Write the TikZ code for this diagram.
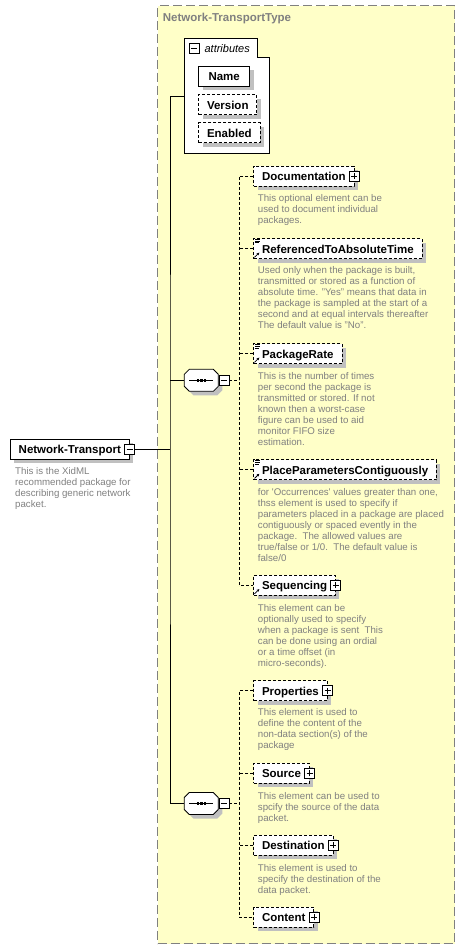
\documentclass[tikz,border=0pt]{standalone}
\usepackage{fontspec}
\setmainfont{Liberation Sans}
\usetikzlibrary{arrows.meta, positioning, shadows}
\definecolor{typeyellow}{RGB}{255,255,200}
\definecolor{typegray}{RGB}{128,128,128}
\definecolor{descgray}{RGB}{128,128,128}
\definecolor{shadowgray}{RGB}{192,192,192}
\newcommand{\elemfont}{\fontsize{11.5}{13}\selectfont\bfseries}
\newcommand{\descfont}{\fontsize{9.7}{11}\selectfont}
\newcommand{\attrfont}{\fontsize{11}{13}\selectfont\itshape}
\newcommand{\reficon}[1]{%
    \draw[line width=0.6pt] ([xshift=1.5pt,yshift=-1.3pt]#1.north west) -- ++(5,0)
        ([xshift=1.5pt,yshift=-2.9pt]#1.north west) -- ++(5,0)
        ([xshift=1.5pt,yshift=-4.5pt]#1.north west) -- ++(4,0);}
\newcommand{\refarrow}[1]{%
    \draw[line width=0.8pt, -{Stealth[length=2.6pt,width=2.8pt]}] ([xshift=1.2pt,yshift=1.8pt]#1.south west) -- ++(4.8,-4.6);}
\newcommand{\seqshape}[1]{%
    \begin{scope}[shift={(#1.center)}]
        \fill[shadowgray] (-8,-7) -- (16,-7) -- (21,-2) -- (21,10) -- (16,15) -- (-8,15) -- (-13,10) -- (-13,-2) -- cycle;
        \draw[wire, fill=white] (-12,-11) -- (12,-11) -- (17,-6) -- (17,6) -- (12,11) -- (-12,11) -- (-17,6) -- (-17,-6) -- cycle;
        \draw[wire] (-12,0) -- (12,0);
        \foreach \d in {-3.6,0,3.6}
            \fill (\d-1.2,-1.2) rectangle (\d+1.2,1.2);
    \end{scope}}
\tikzstyle{typebox} = [
    rectangle,
    draw=typegray,
    line width=1.3pt,
    dash pattern=on 9pt off 4pt,
    fill=typeyellow,
    anchor=north west,
    minimum width=297pt,
    minimum height=938pt,
    inner sep=0pt
]
\tikzstyle{elembox} = [
    rectangle,
    draw=black,
    line width=0.8pt,
    dash pattern=on 3pt off 2pt,
    fill=white,
    minimum height=20pt,
    inner xsep=8.3pt,
    inner ysep=0pt,
    text height=9pt,
    text depth=0pt,
    anchor=west,
    font=\elemfont,
    drop shadow={shadow xshift=4pt, shadow yshift=-4pt, opacity=1, fill=shadowgray}
]
\tikzstyle{rootbox} = [elembox, solid]
\tikzstyle{attrbox} = [elembox, minimum width=51pt]
\tikzstyle{attrframe} = [rectangle, minimum width=85pt, minimum height=114.6pt, inner sep=0pt]
\tikzstyle{seqbox} = [rectangle, minimum width=34pt, minimum height=22pt, inner sep=0pt]
\tikzstyle{descr} = [
    anchor=north west,
    inner sep=0pt,
    align=left,
    font=\descfont,
    text=descgray
]
\tikzstyle{plusbox} = [
    rectangle,
    draw=black,
    solid,
    line width=0.8pt,
    fill=white,
    minimum size=10pt,
    inner sep=0pt,
    path picture={
        \draw[line width=0.8pt] ([xshift=-3pt]path picture bounding box.center) -- ([xshift=3pt]path picture bounding box.center);
        \draw[line width=0.8pt] ([yshift=-3pt]path picture bounding box.center) -- ([yshift=3pt]path picture bounding box.center);
    }
]
\tikzstyle{minusbox} = [
    rectangle,
    draw=black,
    solid,
    line width=0.8pt,
    fill=white,
    minimum size=10pt,
    inner sep=0pt,
    path picture={
        \draw[line width=0.8pt] ([xshift=-3pt]path picture bounding box.center) -- ([xshift=3pt]path picture bounding box.center);
    }
]
\tikzstyle{wire} = [line width=0.8pt, draw=black]
\tikzstyle{dashwire} = [line width=0.8pt, draw=black, dash pattern=on 3pt off 2pt]

\begin{document}
\begin{tikzpicture}[x=1pt, y=-1pt]
\useasboundingbox (0,0) rectangle (464,949);

% Type frame
\node[typebox] (ntype) at (157,5) {};
\node[font=\elemfont, text=typegray, inner sep=0pt, anchor=west] (ntitle) at (162.7,19) {Network-TransportType};

% Attributes
\node[attrframe] (attrs) at (226.8,96) {};
\draw[wire, fill=white] (attrs.north west) -- ([xshift=-12pt]attrs.north east)
    -- ([xshift=-12pt,yshift=-18.6pt]attrs.north east) -- ([yshift=-18.6pt]attrs.north east)
    -- (attrs.south east) -- (attrs.south west) -- cycle;
\node[minusbox] (attrm) at (194,48.5) {};
\node[font=\attrfont, inner sep=0pt, right=5pt of attrm] (attrlbl) {attributes};
\node[attrbox, solid] (aname) at (198.3,76.3) {Name};
\node[attrbox] (aversion) at (198.3,104.7) {Version};
\node[attrbox] (aenabled) at (198.3,132.7) {Enabled};

% Root element
\node[rootbox] (root) at (10,449.3) {Network-Transport\hspace{4.5pt}};
\node[minusbox] (rootm) at (root.east) {};
\node[descr] (rootdesc) at (15,467.5) {This is the XidML\\recommended package for\\describing generic network\\packet.};

% Compositors
\coordinate (spine) at (170,449.3);
\node[seqbox] (seqa) at (201.3,380.3) {};
\seqshape{seqa}
\node[minusbox, anchor=west] (seqam) at (seqa.east) {};
\node[seqbox] (seqb) at (201.3,803.5) {};
\seqshape{seqb}
\node[minusbox, anchor=west] (seqbm) at (seqb.east) {};
\coordinate (busa) at ([xshift=10pt]seqam.east);
\coordinate (busb) at ([xshift=10pt]seqbm.east);

% First sequence
\node[elembox] (doc) at (253.3,176) {Documentation\hspace{4.5pt}};
\node[plusbox] (docx) at (doc.east) {};
\node[descr] (docdesc) at (257.7,194.5) {This optional element can be\\used to document individual\\packages.};

\node[elembox] (reftime) at (253.3,248.7) {ReferencedToAbsoluteTime};
\reficon{reftime}
\refarrow{reftime}
\node[descr] (reftimedesc) at (257.7,266.7) {Used only when the package is built,\\transmitted or stored as a function of\\absolute time. "Yes" means that data in\\the package is sampled at the start of a\\second and at equal intervals thereafter\\The default value is "No".};

\node[elembox] (rate) at (253.3,353.7) {PackageRate};
\reficon{rate}
\refarrow{rate}
\node[descr] (ratedesc) at (257.7,372) {This is the number of times\\per second the package is\\transmitted or stored. If not\\known then a worst-case\\figure can be used to aid\\monitor FIFO size\\estimation.};

\node[elembox] (place) at (253.3,469.8) {PlaceParametersContiguously};
\reficon{place}
\refarrow{place}
\node[descr] (placedesc) at (257.7,488.5) {for \textquotesingle Occurrences\textquotesingle\ values greater than one,\\thss element is used to specify if\\parameters placed in a package are placed\\contiguously or spaced evently in the\\package.\ \ The allowed values are\\true/false or 1/0.\ \ The default value is\\false/0};

\node[elembox] (seqn) at (253.3,585.2) {Sequencing\hspace{4.5pt}};
\node[plusbox] (seqnx) at (seqn.east) {};
\refarrow{seqn}
\node[descr] (seqndesc) at (257.7,604) {This element can be\\optionally used to specify\\when a package is sent\ \ This\\can be done using an ordial\\or a time offset (in\\micro-seconds).};

% Second sequence
\node[elembox] (props) at (253.3,690.7) {Properties\hspace{4.5pt}};
\node[plusbox] (propsx) at (props.east) {};
\node[descr] (propsdesc) at (257.7,708.7) {This element is used to\\define the content of the\\non-data section(s) of the\\package};

\node[elembox] (src) at (253.3,773.3) {Source\hspace{4.5pt}};
\node[plusbox] (srcx) at (src.east) {};
\node[descr] (srcdesc) at (257.7,792) {This element can be used to\\spcify the source of the data\\packet.};

\node[elembox] (dest) at (253.3,845) {Destination\hspace{4.5pt}};
\node[plusbox] (destx) at (dest.east) {};
\node[descr] (destdesc) at (257.7,864) {This element is used to\\specify the destination of the\\data packet.};

\node[elembox] (cont) at (253.3,917.3) {Content\hspace{4.5pt}};
\node[plusbox] (contx) at (cont.east) {};

% Connectors
\draw[wire] (rootm.east) -- (spine);
\draw[wire] (attrs.west) -| (spine) |- (seqb.west);
\draw[wire] (seqa.west) -- (seqa.west -| spine);
\draw[dashwire] (seqam.east) -- (busa);
\draw[dashwire] (doc.west) -| (busa) |- (seqn.west);
\draw[dashwire] (reftime.west) -- (reftime.west -| busa);
\draw[dashwire] (rate.west) -- (rate.west -| busa);
\draw[dashwire] (place.west) -- (place.west -| busa);
\draw[dashwire] (seqbm.east) -- (busb);
\draw[dashwire] (props.west) -| (busb) |- (cont.west);
\draw[dashwire] (src.west) -- (src.west -| busb);
\draw[dashwire] (dest.west) -- (dest.west -| busb);

\end{tikzpicture}
\end{document}
